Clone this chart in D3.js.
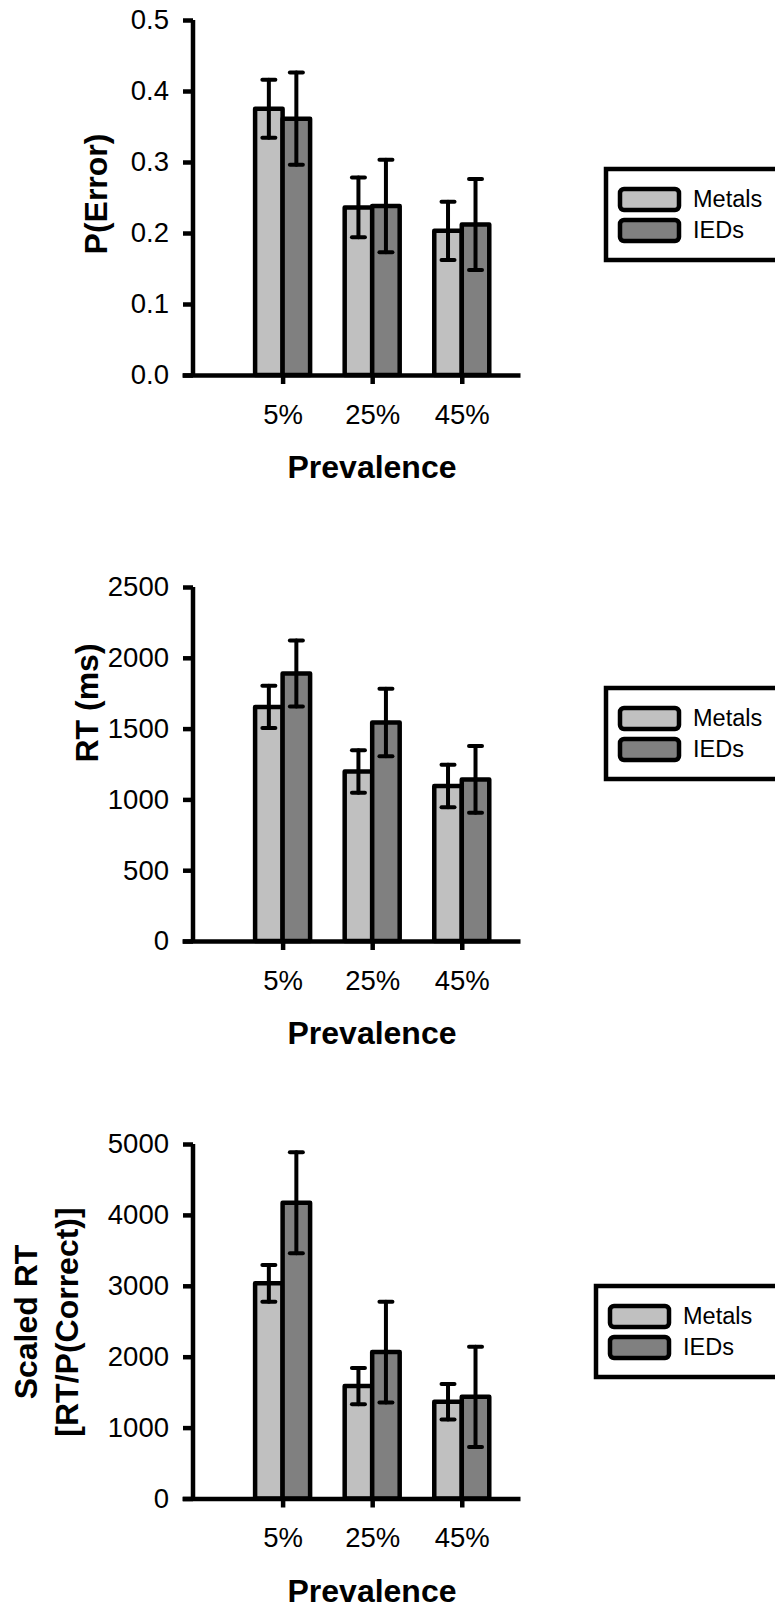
<!DOCTYPE html>
<html>
<head>
<meta charset="utf-8">
<script src="https://cdn.jsdelivr.net/npm/d3@7"></script>
<style>
  html, body { margin: 0; padding: 0; background: #fff; }
  svg { display: block; }
  text { font-family: "Liberation Sans", Arial, sans-serif; fill: #000; }
</style>
</head>
<body>
<svg id="chart" width="775" height="1608"></svg>
<script>
// ---- data ----
const categories = ["5%", "25%", "45%"];
const seriesNames = ["Metals", "IEDs"];

const errorMetals = [0.375, 0.236, 0.203];
const errorMetalsSE = [0.041, 0.042, 0.041];
const errorIEDs = [0.361, 0.238, 0.212];
const errorIEDsSE = [0.065, 0.065, 0.064];
const errorTicks = [0.0, 0.1, 0.2, 0.3, 0.4, 0.5];

const rtMetals = [1653, 1197, 1095];
const rtMetalsSE = [149, 150, 150];
const rtIEDs = [1889, 1543, 1141];
const rtIEDsSE = [233, 238, 236];
const rtTicks = [0, 500, 1000, 1500, 2000, 2500];

const scaledMetals = [3035, 1585, 1365];
const scaledMetalsSE = [260, 256, 250];
const scaledIEDs = [4170, 2065, 1435];
const scaledIEDsSE = [712, 711, 707];
const scaledTicks = [0, 1000, 2000, 3000, 4000, 5000];

// ---- layout ----
const panels = [
  { metals: errorMetals, metalsSE: errorMetalsSE, ieds: errorIEDs, iedsSE: errorIEDsSE,
    ticks: errorTicks, fmt: d3.format(".1f"), max: 0.5, yTop: 20, yBot: 375,
    title: ["P(Error)"], titleX: [107], titleY: 194, legendTop: 169, legendLeft: 606 },
  { metals: rtMetals, metalsSE: rtMetalsSE, ieds: rtIEDs, iedsSE: rtIEDsSE,
    ticks: rtTicks, fmt: d3.format("d"), max: 2500, yTop: 587, yBot: 941,
    title: ["RT (ms)"], titleX: [98], titleY: 703, legendTop: 688, legendLeft: 606 },
  { metals: scaledMetals, metalsSE: scaledMetalsSE, ieds: scaledIEDs, iedsSE: scaledIEDsSE,
    ticks: scaledTicks, fmt: d3.format("d"), max: 5000, yTop: 1144, yBot: 1498.5,
    title: ["Scaled RT", "[RT/P(Correct)]"], titleX: [37, 78], titleY: 1322, legendTop: 1286, legendLeft: 596 }
];

const colors = { Metals: "#c0c0c0", IEDs: "#808080" };
const svg = d3.select("#chart");
const axisX0 = 193;          // y-axis position
const barW = 27.5;

const x = d3.scaleLinear().domain([-0.123, 3.65]).range([182, 520]);

panels.forEach(p => {
  const g = svg.append("g");
  const y = d3.scaleLinear().domain([0, p.max]).range([p.yBot, p.yTop]);

  const rows = categories.map((c, i) => ([
    { s: "Metals", i, v: p.metals[i], e: p.metalsSE[i], x0: x(i + 1) - barW, x1: x(i + 1) },
    { s: "IEDs", i, v: p.ieds[i], e: p.iedsSE[i], x0: x(i + 1), x1: x(i + 1) + barW }
  ])).flat();

  // bars
  g.selectAll("rect.bar").data(rows).join("rect")
    .attr("class", "bar")
    .attr("x", d => d.x0)
    .attr("y", d => y(d.v))
    .attr("width", d => d.x1 - d.x0)
    .attr("height", d => y(0) - y(d.v))
    .attr("fill", d => colors[d.s])
    .attr("stroke", "#000")
    .attr("stroke-width", 4.5)
    .attr("stroke-linejoin", "round");

  // error bars
  const eb = g.selectAll("g.eb").data(rows).join("g").attr("class", "eb")
    .attr("stroke", "#000").attr("stroke-width", 4).attr("stroke-linecap", "round");
  eb.append("line")
    .attr("x1", d => (d.x0 + d.x1) / 2).attr("x2", d => (d.x0 + d.x1) / 2)
    .attr("y1", d => y(d.v - d.e)).attr("y2", d => y(d.v + d.e));
  eb.append("line")
    .attr("x1", d => (d.x0 + d.x1) / 2 - 6.5).attr("x2", d => (d.x0 + d.x1) / 2 + 6.5)
    .attr("y1", d => y(d.v + d.e)).attr("y2", d => y(d.v + d.e));
  eb.append("line")
    .attr("x1", d => (d.x0 + d.x1) / 2 - 6.5).attr("x2", d => (d.x0 + d.x1) / 2 + 6.5)
    .attr("y1", d => y(d.v - d.e)).attr("y2", d => y(d.v - d.e));

  // y axis
  const ya = g.append("g").attr("transform", `translate(${axisX0},0)`)
    .call(d3.axisLeft(y).tickValues(p.ticks).tickFormat(p.fmt).tickSize(10).tickSizeOuter(0).tickPadding(14));
  ya.select(".domain").attr("stroke-width", 4.5).attr("d", `M0,${p.yTop}V${p.yBot}`);
  ya.selectAll(".tick line").attr("stroke-width", 4.5);
  ya.selectAll(".tick text").attr("font-size", 27.5).attr("font-family", "Liberation Sans, Arial, sans-serif");

  // x axis
  const xa = g.append("g").attr("transform", `translate(0,${p.yBot})`)
    .call(d3.axisBottom(x).tickValues([1, 2, 3]).tickFormat((d, i) => categories[i])
      .tickSize(9).tickSizeOuter(0).tickPadding(20));
  xa.select(".domain").attr("stroke-width", 4.5);
  xa.selectAll(".tick line").attr("stroke-width", 4.5);
  xa.selectAll(".tick text").attr("font-size", 27.5).attr("font-family", "Liberation Sans, Arial, sans-serif");

  // x title
  g.append("text").attr("x", 372).attr("y", p.yBot + 103)
    .attr("text-anchor", "middle").attr("font-size", 32).attr("font-weight", "bold")
    .text("Prevalence");

  // y title
  p.title.forEach((t, k) => {
    g.append("text")
      .attr("transform", `translate(${p.titleX[k]},${p.titleY}) rotate(-90)`)
      .attr("text-anchor", "middle").attr("font-size", 32).attr("font-weight", "bold")
      .text(t);
  });

  // legend
  const lg = g.append("g").attr("transform", `translate(${p.legendLeft},${p.legendTop})`);
  lg.append("rect").attr("x", 0).attr("y", 0).attr("width", 200).attr("height", 91)
    .attr("fill", "#fff").attr("stroke", "#000").attr("stroke-width", 4.5);
  seriesNames.forEach((s, k) => {
    lg.append("rect").attr("x", 14).attr("y", 20 + k * 31).attr("width", 59).attr("height", 21)
      .attr("rx", 4).attr("fill", colors[s]).attr("stroke", "#000").attr("stroke-width", 4.5);
    lg.append("text").attr("x", 87).attr("y", 38 + k * 31).attr("font-size", 23.5).text(s);
  });
});
</script>
</body>
</html>
